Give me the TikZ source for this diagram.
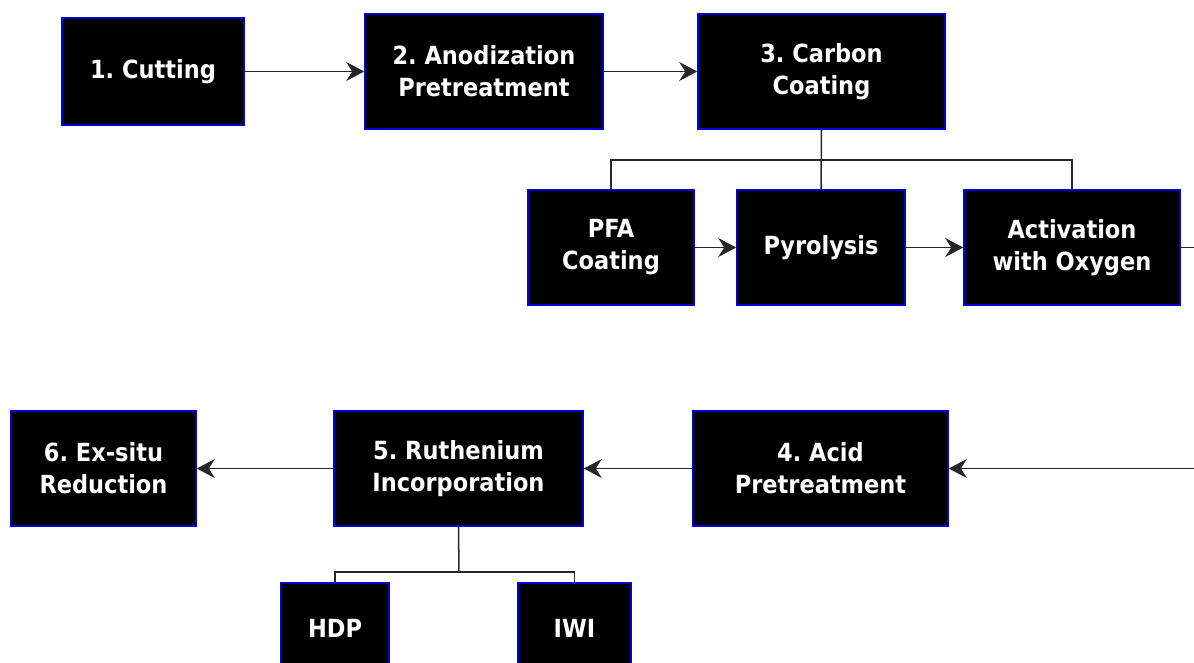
\documentclass[tikz,border=0pt]{standalone}
\usepackage{fontspec}
\newfontfamily\boxfont{DejaVu Sans Condensed}
\usetikzlibrary{arrows.meta}
\begin{document}
\begin{tikzpicture}[x=1pt,y=1pt,
  pbox/.style={draw=blue!85!black, line width=1.6pt, fill=black, text=white,
    font=\boxfont\bfseries\fontsize{25}{32}\selectfont\frenchspacing, align=center,
    inner sep=0pt, anchor=center},
  conn/.style={draw=black!85, line width=1.5pt},
  arr/.style={conn, -{Stealth[length=18pt,width=19pt,inset=6pt]}}]
\clip (0,0) rectangle (1194,-662);
\useasboundingbox (0,0) rectangle (1194,-662);
% row 1
\node[pbox, minimum width=182pt, minimum height=107pt] (b1) at (153,-71.5) {1. Cutting};
\node[pbox, minimum width=238pt, minimum height=115pt] (b2) at (484,-71.5) {2. Anodization\\Pretreatment};
\node[pbox, minimum width=247pt, minimum height=115pt] (b3) at (821.5,-71.5) {3. Carbon\\Coating};
% row 2
\node[pbox, minimum width=166pt, minimum height=115pt] (pfa) at (611,-247.5) {PFA\\Coating};
\node[pbox, minimum width=168pt, minimum height=115pt] (pyro) at (821,-247.5) {Pyrolysis};
\node[pbox, minimum width=216pt, minimum height=115pt] (act) at (1072,-247.5) {Activation\\with Oxygen};
% row 3
\node[pbox, minimum width=255pt, minimum height=115pt] (b4) at (820.5,-468.5) {4. Acid\\Pretreatment};
\node[pbox, minimum width=249pt, minimum height=115pt] (b5) at (458.5,-468.5) {5. Ruthenium\\Incorporation};
\node[pbox, minimum width=185pt, minimum height=115pt] (b6) at (103.5,-468.5) {6. Ex-situ\\Reduction};
% row 4
\node[pbox, minimum width=108pt, minimum height=90pt] (hdp) at (335,-628) {HDP};
\node[pbox, minimum width=113pt, minimum height=90pt] (iwi) at (574.5,-628) {IWI};
% connectors
\coordinate (j1) at (821,-160);
\coordinate (j2) at (459,-572);
\coordinate (e1) at (1194,-247.5);
\coordinate (e2) at (1194,-468.5);
\draw[arr] (b1.east) -- (b2.west);
\draw[arr] (b2.east) -- (b3.west);
\draw[conn] (b3.south) -- (pyro.north);
\draw[conn] (pfa.north) |- (j1) -| (act.north);
\draw[arr] (pfa.east) -- (pyro.west);
\draw[arr] (pyro.east) -- (act.west);
\draw[conn] (act.east) -- (e1);
\draw[arr] (e2) -- (b4.east);
\draw[arr] (b4.west) -- (b5.east);
\draw[arr] (b5.west) -- (b6.east);
\draw[conn] (b5.south) -- (j2);
\draw[conn] (hdp.north) |- (j2) -| (iwi.north);
\end{tikzpicture}
\end{document}
